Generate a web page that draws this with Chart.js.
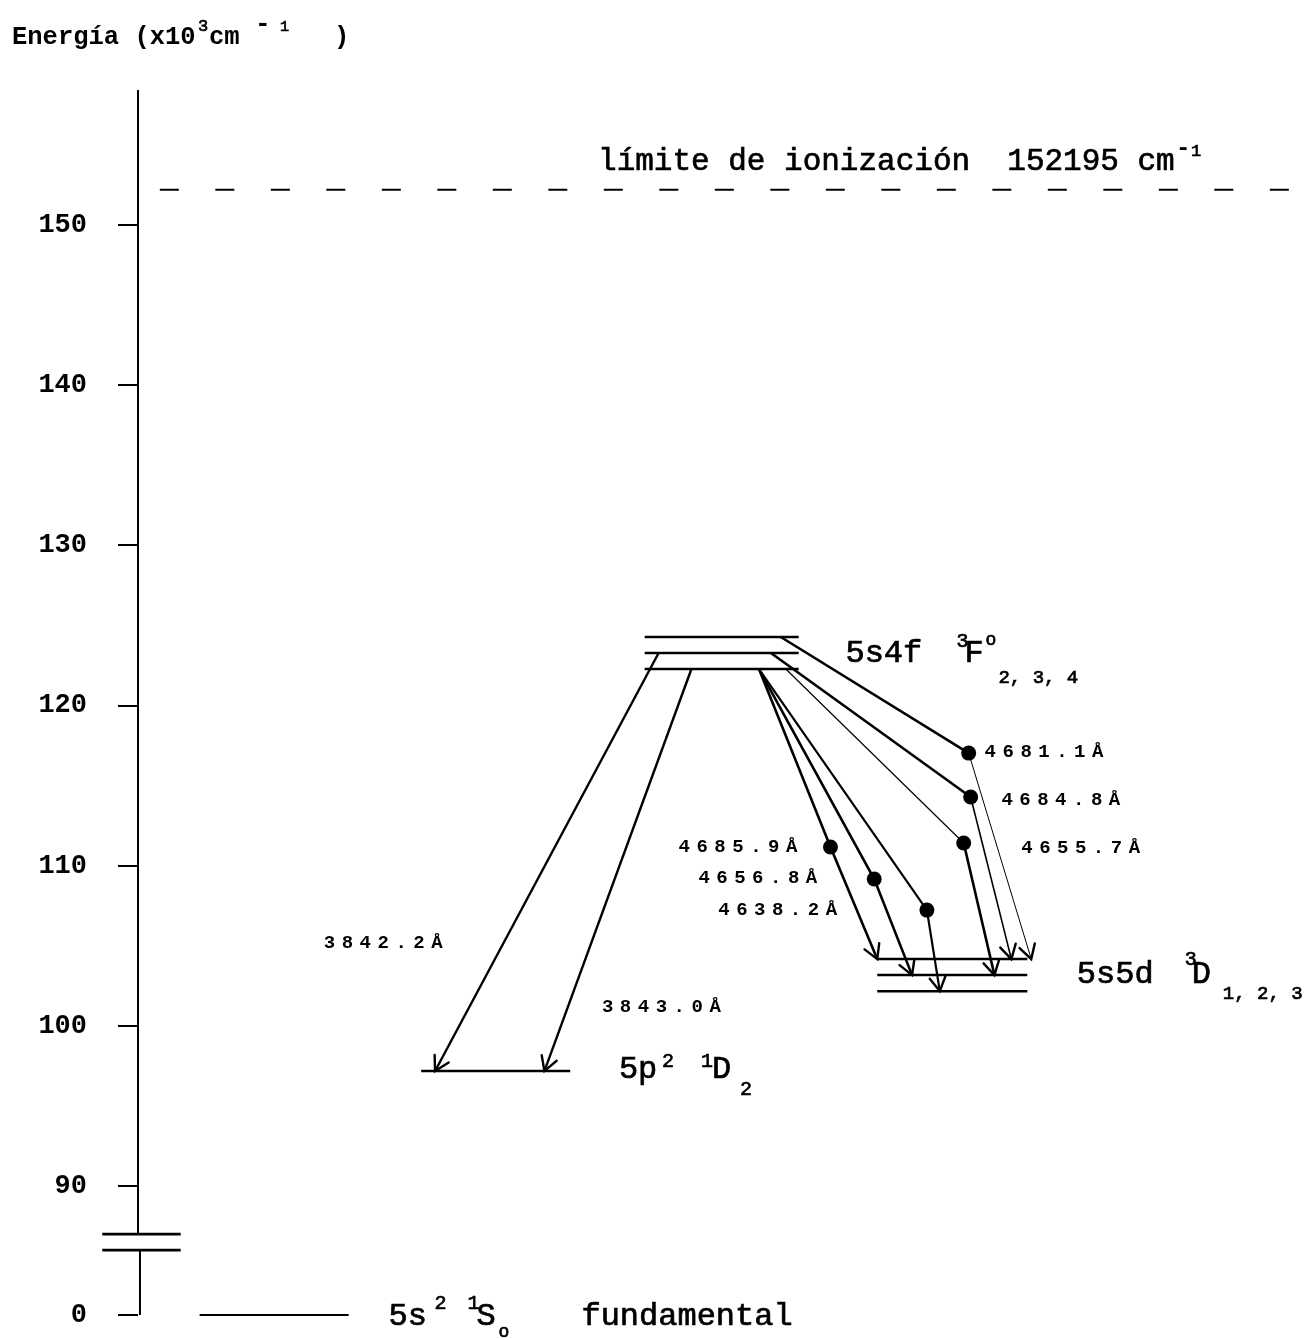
<!DOCTYPE html>
<html>
<head>
<meta charset="utf-8">
<script src="https://cdn.jsdelivr.net/npm/chart.js@4.4.1/dist/chart.umd.min.js"></script>
<style>
  html, body { margin: 0; background: #fff; }
  #wrap { width: 1306px; height: 1340px; position: relative; }
</style>
</head>
<body>
<div id="wrap"><canvas id="diagram"></canvas></div>
<script>
// energies in 10^3 cm-1
const yTickValues = [150, 140, 130, 120, 110, 100, 90];
const groundPos = 81.95;          // where "0" sits on the broken axis
const axisTop = 158.43;
const axisBreak = [87.0, 86.0];
const ionLimit = 152.195;

const levels4f = [124.28, 123.28, 122.28];   // 5s4f 3F 4,3,2
const levels5d = [104.17, 103.17, 102.17];   // 5s5d 3D 3,2,1
const level5p2 = 97.18;                       // 5p2 1D2

// transitions: upper level -> (dot) -> lower level
const transLabels = ['3842.2Å', '3843.0Å', '4685.9Å', '4656.8Å', '4638.2Å', '4655.7Å', '4684.8Å', '4681.1Å'];
const transUpper  = [123.28, 122.28, 122.28, 122.28, 122.28, 122.28, 123.28, 124.28];
const transDot    = [null, null, 111.17, 109.17, 107.23, 111.42, 114.29, 117.03];
const transLower  = [97.18, 97.18, 104.17, 103.17, 102.17, 103.17, 104.17, 104.17];

// horizontal layout (arbitrary units 0..100 across the plot)
const colLevels = { f4: [43.66, 56.93], d5: [63.7, 76.63], p2: [24.4, 37.24], gs: [5.31, 18.15] };
const transStartX = [44.86, 47.69, 53.51, 53.51, 53.51, 55.82, 54.54, 55.39];
const transDotX   = [null, null, 59.67, 63.44, 67.98, 71.15, 71.75, 71.58];
const transEndX   = [25.6, 35.02, 63.7, 66.7, 69.09, 73.8, 75.26, 76.97];
const transWidth  = [[2.4], [2.4], [2.6, 2.6], [2.6, 2.6], [2.2, 2.2], [1.2, 2.6], [2.6, 1.6], [2.6, 1.0]];
const transLabelPos = [[16.01, 104.86], [39.98, 100.86], [46.58, 110.85], [48.29, 108.92],
                       [50.0, 106.92], [76.11, 110.79], [74.4, 113.79], [72.95, 116.79]];

const FONT = '"Liberation Mono", "Courier New", monospace';

const textLabels = [
  { at: [39.64, 153.43], runs: [
      { text: 'límite de ionización  152195 cm', dx: 0, size: 31 },
      { text: '-', dx: 578, dy: -15, size: 24, bold: true },
      { text: '1', dx: 593, dy: -14, size: 17 }] },
  { at: [60.96, 122.72], runs: [
      { text: '5s4f', dx: 0, size: 32 },
      { text: '3', dx: 111, dy: -15, size: 20 },
      { text: 'F', dx: 119, size: 32 },
      { text: 'o', dx: 140, dy: -17, size: 18 },
      { text: '2, 3, 4', dx: 153, dy: 21, size: 19 }] },
  { at: [80.9, 102.68], runs: [
      { text: '5s5d', dx: 0, size: 32 },
      { text: '3', dx: 108, dy: -18, size: 20 },
      { text: 'D', dx: 115, size: 32 },
      { text: '1, 2, 3', dx: 146, dy: 16, size: 19 }] },
  { at: [41.44, 96.74], runs: [
      { text: '5p', dx: 0, size: 32 },
      { text: '2', dx: 43, dy: -11, size: 20 },
      { text: '1', dx: 82, dy: -11, size: 20 },
      { text: 'D', dx: 93, size: 32 },
      { text: '2', dx: 121, dy: 17, size: 20 }] },
  { at: [21.58, 81.34], runs: [
      { text: '5s', dx: 0, size: 32 },
      { text: '2', dx: 46, dy: -16, size: 20 },
      { text: '1', dx: 79, dy: -16, size: 20 },
      { text: 'S', dx: 88, size: 32 },
      { text: 'o', dx: 110, dy: 12, size: 18 },
      { text: 'fundamental', dx: 193, size: 32 }] }
];

const axisTitle = [
  { text: 'Energía (x10', dx: 0, size: 25.5, bold: true },
  { text: '3', dx: 186, dy: -13, size: 17 },
  { text: 'cm', dx: 197, size: 25.5, bold: true },
  { text: '-', dx: 243, dy: -13, size: 26, bold: true },
  { text: '1', dx: 268, dy: -13, size: 15 },
  { text: ')', dx: 322, size: 25.5, bold: true }
];

function line(points, width, extra) {
  return Object.assign({
    data: points, showLine: true, pointRadius: 0, borderColor: '#000',
    borderWidth: width, fill: false, tension: 0, clip: false
  }, extra || {});
}

const datasets = [];
// broken energy axis
datasets.push(line([{ x: 0, y: axisTop }, { x: 0, y: axisBreak[0] }], 2));
datasets.push(line([{ x: 0.17, y: axisBreak[1] }, { x: 0.17, y: groundPos }], 2));
axisBreak.forEach(v => datasets.push(line([{ x: -3.08, y: v }, { x: 3.68, y: v }], 2.6)));
// ionisation limit
datasets.push(line([{ x: 1.88, y: ionLimit }, { x: 100, y: ionLimit }], 2, { borderDash: [19, 36.5] }));
// levels
levels4f.forEach(v => datasets.push(line([{ x: colLevels.f4[0], y: v }, { x: colLevels.f4[1], y: v }], 2.5)));
levels5d.forEach(v => datasets.push(line([{ x: colLevels.d5[0], y: v }, { x: colLevels.d5[1], y: v }], 2.5)));
datasets.push(line([{ x: colLevels.p2[0], y: level5p2 }, { x: colLevels.p2[1], y: level5p2 }], 2.5));
datasets.push(line([{ x: colLevels.gs[0], y: groundPos }, { x: colLevels.gs[1], y: groundPos }], 2.2));

// transitions
transLabels.forEach((lab, i) => {
  const pts = [{ x: transStartX[i], y: transUpper[i] }];
  if (transDot[i] !== null) pts.push({ x: transDotX[i], y: transDot[i] });
  pts.push({ x: transEndX[i], y: transLower[i] });
  const w = transWidth[i];
  datasets.push(line(pts, w[0], {
    segment: { borderWidth: ctx => w[ctx.p0DataIndex] || w[0] },
    arrow: true
  }));
});
// dots on the lines
datasets.push({
  data: transDot.map((v, i) => v === null ? null : { x: transDotX[i], y: v }).filter(Boolean),
  pointRadius: 7.5, pointBackgroundColor: '#000', pointBorderWidth: 0, showLine: false, clip: false
});

function drawRuns(ctx, x0, y0, runs, baseBold) {
  runs.forEach(r => {
    const bold = r.bold !== undefined ? r.bold : baseBold;
    ctx.font = (bold ? 'bold ' : '') + r.size + 'px ' + FONT;
    ctx.letterSpacing = (r.ls || 0) + 'px';
    ctx.fillText(r.text, x0 + r.dx, y0 + (r.dy || 0));
    if (!bold) {
      // scanned typewriter text is a bit heavier than the regular face
      ctx.lineWidth = 0.7;
      ctx.strokeText(r.text, x0 + r.dx, y0 + (r.dy || 0));
    }
  });
  ctx.letterSpacing = '0px';
}

const decorations = {
  id: 'decorations',
  afterDatasetsDraw(chart) {
    const { ctx, scales } = chart;
    const xs = scales.x, ys = scales.y;
    ctx.save();
    ctx.strokeStyle = '#000';
    ctx.fillStyle = '#000';
    ctx.lineCap = 'round';
    // open arrow heads at the lower end of each transition
    chart.data.datasets.forEach((ds, di) => {
      if (!ds.arrow) return;
      const pts = chart.getDatasetMeta(di).data;
      const a = pts[pts.length - 2], b = pts[pts.length - 1];
      const ang = Math.atan2(b.y - a.y, b.x - a.x);
      const len = 16, spread = 0.52;
      ctx.lineWidth = 2.4;
      ctx.beginPath();
      ctx.moveTo(b.x - len * Math.cos(ang - spread), b.y - len * Math.sin(ang - spread));
      ctx.lineTo(b.x, b.y);
      ctx.lineTo(b.x - len * Math.cos(ang + spread), b.y - len * Math.sin(ang + spread));
      ctx.stroke();
    });
    // wavelength labels
    ctx.textBaseline = 'alphabetic';
    ctx.textAlign = 'left';
    transLabels.forEach((lab, i) => {
      const p = transLabelPos[i];
      drawRuns(ctx, xs.getPixelForValue(p[0]), ys.getPixelForValue(p[1]),
        [{ text: lab, dx: 0, size: 19, bold: true, ls: 6.5 }], true);
    });
    // term labels
    textLabels.forEach(l => {
      drawRuns(ctx, xs.getPixelForValue(l.at[0]), ys.getPixelForValue(l.at[1]), l.runs, false);
    });
    // axis title
    drawRuns(ctx, 12, 44, axisTitle, false);
    ctx.restore();
  }
};

new Chart(document.getElementById('diagram').getContext('2d'), {
  type: 'scatter',
  data: { datasets },
  options: {
    responsive: true,
    maintainAspectRatio: false,
    animation: false,
    layout: { padding: { top: 90, bottom: 25, left: 0, right: 0 } },
    plugins: { legend: { display: false }, tooltip: { enabled: false } },
    scales: {
      x: { type: 'linear', min: 0, max: 100, display: false },
      y: {
        type: 'linear', min: groundPos, max: axisTop,
        afterBuildTicks: s => { s.ticks = [groundPos].concat(yTickValues.slice().reverse()).map(v => ({ value: v })); },
        afterFit: s => { s.width = 138; s.paddingTop = 0; s.paddingBottom = 0; },
        border: { display: false },
        grid: { drawOnChartArea: false, drawTicks: true, tickLength: 20, lineWidth: 2, color: '#000' },
        ticks: {
          color: '#000', padding: 31,
          font: { family: FONT, size: 27, weight: 'bold' },
          callback: v => v === groundPos ? '0' : String(v)
        }
      }
    }
  },
  plugins: [decorations]
});
</script>
</body>
</html>
